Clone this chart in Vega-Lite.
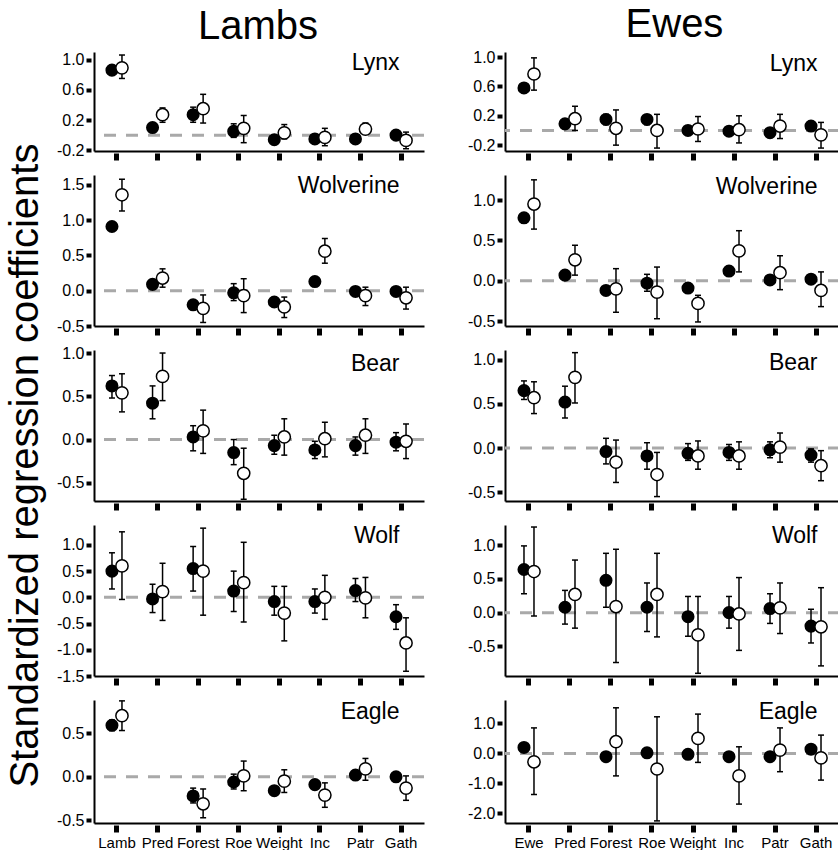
{
"$schema": "https://vega.github.io/schema/vega-lite/v6.json",
"background": "white",
"padding": {"left": 6, "top": 5, "right": 0, "bottom": 0},
"title": {"text": "Standardized regression coefficients", "orient": "left", "anchor": "middle", "fontSize": 40, "offset": 10, "dx": -38},
"data": {"values": [
{"s":"Lambs","p":"Lynx","v":"Lamb","m":"filled","est":0.86,"lo":0.81,"hi":0.91},
{"s":"Lambs","p":"Lynx","v":"Lamb","m":"open","est":0.89,"lo":0.75,"hi":1.06},
{"s":"Lambs","p":"Lynx","v":"Pred","m":"filled","est":0.10,"lo":0.06,"hi":0.14},
{"s":"Lambs","p":"Lynx","v":"Pred","m":"open","est":0.27,"lo":0.17,"hi":0.36},
{"s":"Lambs","p":"Lynx","v":"Forest","m":"filled","est":0.27,"lo":0.17,"hi":0.37},
{"s":"Lambs","p":"Lynx","v":"Forest","m":"open","est":0.35,"lo":0.16,"hi":0.54},
{"s":"Lambs","p":"Lynx","v":"Roe","m":"filled","est":0.05,"lo":-0.03,"hi":0.15},
{"s":"Lambs","p":"Lynx","v":"Roe","m":"open","est":0.09,"lo":-0.10,"hi":0.26},
{"s":"Lambs","p":"Lynx","v":"Weight","m":"filled","est":-0.06,"lo":-0.10,"hi":-0.02},
{"s":"Lambs","p":"Lynx","v":"Weight","m":"open","est":0.03,"lo":-0.05,"hi":0.14},
{"s":"Lambs","p":"Lynx","v":"Inc","m":"filled","est":-0.05,"lo":-0.09,"hi":-0.01},
{"s":"Lambs","p":"Lynx","v":"Inc","m":"open","est":-0.03,"lo":-0.14,"hi":0.09},
{"s":"Lambs","p":"Lynx","v":"Patr","m":"filled","est":-0.05,"lo":-0.09,"hi":-0.01},
{"s":"Lambs","p":"Lynx","v":"Patr","m":"open","est":0.08,"lo":0.02,"hi":0.16},
{"s":"Lambs","p":"Lynx","v":"Gath","m":"filled","est":0.00,"lo":-0.04,"hi":0.04},
{"s":"Lambs","p":"Lynx","v":"Gath","m":"open","est":-0.07,"lo":-0.18,"hi":0.04},
{"s":"Lambs","p":"Wolverine","v":"Lamb","m":"filled","est":0.91,"lo":0.86,"hi":0.96},
{"s":"Lambs","p":"Wolverine","v":"Lamb","m":"open","est":1.36,"lo":1.13,"hi":1.58},
{"s":"Lambs","p":"Wolverine","v":"Pred","m":"filled","est":0.09,"lo":0.05,"hi":0.13},
{"s":"Lambs","p":"Wolverine","v":"Pred","m":"open","est":0.18,"lo":0.05,"hi":0.31},
{"s":"Lambs","p":"Wolverine","v":"Forest","m":"filled","est":-0.20,"lo":-0.26,"hi":-0.14},
{"s":"Lambs","p":"Wolverine","v":"Forest","m":"open","est":-0.25,"lo":-0.45,"hi":-0.06},
{"s":"Lambs","p":"Wolverine","v":"Roe","m":"filled","est":-0.03,"lo":-0.14,"hi":0.10},
{"s":"Lambs","p":"Wolverine","v":"Roe","m":"open","est":-0.07,"lo":-0.31,"hi":0.17},
{"s":"Lambs","p":"Wolverine","v":"Weight","m":"filled","est":-0.16,"lo":-0.21,"hi":-0.11},
{"s":"Lambs","p":"Wolverine","v":"Weight","m":"open","est":-0.23,"lo":-0.38,"hi":-0.09},
{"s":"Lambs","p":"Wolverine","v":"Inc","m":"filled","est":0.13,"lo":0.09,"hi":0.17},
{"s":"Lambs","p":"Wolverine","v":"Inc","m":"open","est":0.56,"lo":0.39,"hi":0.74},
{"s":"Lambs","p":"Wolverine","v":"Patr","m":"filled","est":-0.01,"lo":-0.05,"hi":0.03},
{"s":"Lambs","p":"Wolverine","v":"Patr","m":"open","est":-0.07,"lo":-0.21,"hi":0.05},
{"s":"Lambs","p":"Wolverine","v":"Gath","m":"filled","est":-0.01,"lo":-0.05,"hi":0.03},
{"s":"Lambs","p":"Wolverine","v":"Gath","m":"open","est":-0.10,"lo":-0.26,"hi":0.05},
{"s":"Lambs","p":"Bear","v":"Lamb","m":"filled","est":0.62,"lo":0.48,"hi":0.74},
{"s":"Lambs","p":"Bear","v":"Lamb","m":"open","est":0.54,"lo":0.32,"hi":0.76},
{"s":"Lambs","p":"Bear","v":"Pred","m":"filled","est":0.42,"lo":0.24,"hi":0.62},
{"s":"Lambs","p":"Bear","v":"Pred","m":"open","est":0.73,"lo":0.45,"hi":1.0},
{"s":"Lambs","p":"Bear","v":"Forest","m":"filled","est":0.03,"lo":-0.13,"hi":0.16},
{"s":"Lambs","p":"Bear","v":"Forest","m":"open","est":0.10,"lo":-0.16,"hi":0.34},
{"s":"Lambs","p":"Bear","v":"Roe","m":"filled","est":-0.15,"lo":-0.29,"hi":0.0},
{"s":"Lambs","p":"Bear","v":"Roe","m":"open","est":-0.39,"lo":-0.69,"hi":-0.10},
{"s":"Lambs","p":"Bear","v":"Weight","m":"filled","est":-0.07,"lo":-0.17,"hi":0.05},
{"s":"Lambs","p":"Bear","v":"Weight","m":"open","est":0.03,"lo":-0.18,"hi":0.24},
{"s":"Lambs","p":"Bear","v":"Inc","m":"filled","est":-0.12,"lo":-0.22,"hi":-0.02},
{"s":"Lambs","p":"Bear","v":"Inc","m":"open","est":0.01,"lo":-0.20,"hi":0.20},
{"s":"Lambs","p":"Bear","v":"Patr","m":"filled","est":-0.07,"lo":-0.18,"hi":0.03},
{"s":"Lambs","p":"Bear","v":"Patr","m":"open","est":0.05,"lo":-0.16,"hi":0.24},
{"s":"Lambs","p":"Bear","v":"Gath","m":"filled","est":-0.03,"lo":-0.13,"hi":0.08},
{"s":"Lambs","p":"Bear","v":"Gath","m":"open","est":-0.02,"lo":-0.22,"hi":0.18},
{"s":"Lambs","p":"Wolf","v":"Lamb","m":"filled","est":0.50,"lo":0.16,"hi":0.85},
{"s":"Lambs","p":"Wolf","v":"Lamb","m":"open","est":0.60,"lo":-0.04,"hi":1.25},
{"s":"Lambs","p":"Wolf","v":"Pred","m":"filled","est":-0.03,"lo":-0.29,"hi":0.25},
{"s":"Lambs","p":"Wolf","v":"Pred","m":"open","est":0.11,"lo":-0.44,"hi":0.65},
{"s":"Lambs","p":"Wolf","v":"Forest","m":"filled","est":0.55,"lo":0.12,"hi":0.97},
{"s":"Lambs","p":"Wolf","v":"Forest","m":"open","est":0.50,"lo":-0.34,"hi":1.32},
{"s":"Lambs","p":"Wolf","v":"Roe","m":"filled","est":0.12,"lo":-0.27,"hi":0.50},
{"s":"Lambs","p":"Wolf","v":"Roe","m":"open","est":0.28,"lo":-0.47,"hi":1.05},
{"s":"Lambs","p":"Wolf","v":"Weight","m":"filled","est":-0.08,"lo":-0.34,"hi":0.21},
{"s":"Lambs","p":"Wolf","v":"Weight","m":"open","est":-0.30,"lo":-0.83,"hi":0.21},
{"s":"Lambs","p":"Wolf","v":"Inc","m":"filled","est":-0.08,"lo":-0.30,"hi":0.16},
{"s":"Lambs","p":"Wolf","v":"Inc","m":"open","est":0.00,"lo":-0.42,"hi":0.42},
{"s":"Lambs","p":"Wolf","v":"Patr","m":"filled","est":0.13,"lo":-0.08,"hi":0.36},
{"s":"Lambs","p":"Wolf","v":"Patr","m":"open","est":-0.01,"lo":-0.39,"hi":0.38},
{"s":"Lambs","p":"Wolf","v":"Gath","m":"filled","est":-0.37,"lo":-0.61,"hi":-0.14},
{"s":"Lambs","p":"Wolf","v":"Gath","m":"open","est":-0.87,"lo":-1.41,"hi":-0.39},
{"s":"Lambs","p":"Eagle","v":"Lamb","m":"filled","est":0.59,"lo":0.53,"hi":0.65},
{"s":"Lambs","p":"Eagle","v":"Lamb","m":"open","est":0.70,"lo":0.53,"hi":0.87},
{"s":"Lambs","p":"Eagle","v":"Forest","m":"filled","est":-0.22,"lo":-0.30,"hi":-0.13},
{"s":"Lambs","p":"Eagle","v":"Forest","m":"open","est":-0.31,"lo":-0.47,"hi":-0.14},
{"s":"Lambs","p":"Eagle","v":"Roe","m":"filled","est":-0.06,"lo":-0.14,"hi":0.03},
{"s":"Lambs","p":"Eagle","v":"Roe","m":"open","est":0.01,"lo":-0.16,"hi":0.18},
{"s":"Lambs","p":"Eagle","v":"Weight","m":"filled","est":-0.16,"lo":-0.21,"hi":-0.11},
{"s":"Lambs","p":"Eagle","v":"Weight","m":"open","est":-0.05,"lo":-0.18,"hi":0.08},
{"s":"Lambs","p":"Eagle","v":"Inc","m":"filled","est":-0.09,"lo":-0.14,"hi":-0.04},
{"s":"Lambs","p":"Eagle","v":"Inc","m":"open","est":-0.21,"lo":-0.35,"hi":-0.07},
{"s":"Lambs","p":"Eagle","v":"Patr","m":"filled","est":0.02,"lo":-0.03,"hi":0.07},
{"s":"Lambs","p":"Eagle","v":"Patr","m":"open","est":0.09,"lo":-0.04,"hi":0.21},
{"s":"Lambs","p":"Eagle","v":"Gath","m":"filled","est":0.00,"lo":-0.05,"hi":0.05},
{"s":"Lambs","p":"Eagle","v":"Gath","m":"open","est":-0.13,"lo":-0.27,"hi":0.01},
{"s":"Ewes","p":"Lynx","v":"Ewe","m":"filled","est":0.58,"lo":0.53,"hi":0.63},
{"s":"Ewes","p":"Lynx","v":"Ewe","m":"open","est":0.77,"lo":0.55,"hi":0.99},
{"s":"Ewes","p":"Lynx","v":"Pred","m":"filled","est":0.09,"lo":0.04,"hi":0.14},
{"s":"Ewes","p":"Lynx","v":"Pred","m":"open","est":0.16,"lo":0.00,"hi":0.33},
{"s":"Ewes","p":"Lynx","v":"Forest","m":"filled","est":0.15,"lo":0.08,"hi":0.22},
{"s":"Ewes","p":"Lynx","v":"Forest","m":"open","est":0.03,"lo":-0.20,"hi":0.28},
{"s":"Ewes","p":"Lynx","v":"Roe","m":"filled","est":0.15,"lo":0.08,"hi":0.21},
{"s":"Ewes","p":"Lynx","v":"Roe","m":"open","est":0.00,"lo":-0.24,"hi":0.22},
{"s":"Ewes","p":"Lynx","v":"Weight","m":"filled","est":0.00,"lo":-0.04,"hi":0.04},
{"s":"Ewes","p":"Lynx","v":"Weight","m":"open","est":0.02,"lo":-0.15,"hi":0.19},
{"s":"Ewes","p":"Lynx","v":"Inc","m":"filled","est":-0.01,"lo":-0.05,"hi":0.03},
{"s":"Ewes","p":"Lynx","v":"Inc","m":"open","est":0.01,"lo":-0.17,"hi":0.20},
{"s":"Ewes","p":"Lynx","v":"Patr","m":"filled","est":-0.03,"lo":-0.07,"hi":0.01},
{"s":"Ewes","p":"Lynx","v":"Patr","m":"open","est":0.06,"lo":-0.11,"hi":0.22},
{"s":"Ewes","p":"Lynx","v":"Gath","m":"filled","est":0.06,"lo":0.02,"hi":0.10},
{"s":"Ewes","p":"Lynx","v":"Gath","m":"open","est":-0.06,"lo":-0.24,"hi":0.11},
{"s":"Ewes","p":"Wolverine","v":"Ewe","m":"filled","est":0.78,"lo":0.72,"hi":0.84},
{"s":"Ewes","p":"Wolverine","v":"Ewe","m":"open","est":0.95,"lo":0.64,"hi":1.25},
{"s":"Ewes","p":"Wolverine","v":"Pred","m":"filled","est":0.07,"lo":0.03,"hi":0.11},
{"s":"Ewes","p":"Wolverine","v":"Pred","m":"open","est":0.26,"lo":0.07,"hi":0.44},
{"s":"Ewes","p":"Wolverine","v":"Forest","m":"filled","est":-0.12,"lo":-0.17,"hi":-0.07},
{"s":"Ewes","p":"Wolverine","v":"Forest","m":"open","est":-0.10,"lo":-0.39,"hi":0.15},
{"s":"Ewes","p":"Wolverine","v":"Roe","m":"filled","est":-0.03,"lo":-0.13,"hi":0.08},
{"s":"Ewes","p":"Wolverine","v":"Roe","m":"open","est":-0.14,"lo":-0.47,"hi":0.17},
{"s":"Ewes","p":"Wolverine","v":"Weight","m":"filled","est":-0.09,"lo":-0.14,"hi":-0.04},
{"s":"Ewes","p":"Wolverine","v":"Weight","m":"open","est":-0.28,"lo":-0.51,"hi":-0.18},
{"s":"Ewes","p":"Wolverine","v":"Inc","m":"filled","est":0.12,"lo":0.08,"hi":0.16},
{"s":"Ewes","p":"Wolverine","v":"Inc","m":"open","est":0.37,"lo":0.11,"hi":0.62},
{"s":"Ewes","p":"Wolverine","v":"Patr","m":"filled","est":0.01,"lo":-0.03,"hi":0.05},
{"s":"Ewes","p":"Wolverine","v":"Patr","m":"open","est":0.10,"lo":-0.11,"hi":0.31},
{"s":"Ewes","p":"Wolverine","v":"Gath","m":"filled","est":0.02,"lo":-0.02,"hi":0.06},
{"s":"Ewes","p":"Wolverine","v":"Gath","m":"open","est":-0.12,"lo":-0.32,"hi":0.11},
{"s":"Ewes","p":"Bear","v":"Ewe","m":"filled","est":0.65,"lo":0.55,"hi":0.76},
{"s":"Ewes","p":"Bear","v":"Ewe","m":"open","est":0.57,"lo":0.39,"hi":0.75},
{"s":"Ewes","p":"Bear","v":"Pred","m":"filled","est":0.52,"lo":0.34,"hi":0.70},
{"s":"Ewes","p":"Bear","v":"Pred","m":"open","est":0.80,"lo":0.51,"hi":1.08},
{"s":"Ewes","p":"Bear","v":"Forest","m":"filled","est":-0.04,"lo":-0.18,"hi":0.11},
{"s":"Ewes","p":"Bear","v":"Forest","m":"open","est":-0.16,"lo":-0.39,"hi":0.09},
{"s":"Ewes","p":"Bear","v":"Roe","m":"filled","est":-0.09,"lo":-0.24,"hi":0.06},
{"s":"Ewes","p":"Bear","v":"Roe","m":"open","est":-0.30,"lo":-0.55,"hi":-0.05},
{"s":"Ewes","p":"Bear","v":"Weight","m":"filled","est":-0.06,"lo":-0.14,"hi":0.05},
{"s":"Ewes","p":"Bear","v":"Weight","m":"open","est":-0.09,"lo":-0.24,"hi":0.08},
{"s":"Ewes","p":"Bear","v":"Inc","m":"filled","est":-0.05,"lo":-0.14,"hi":0.04},
{"s":"Ewes","p":"Bear","v":"Inc","m":"open","est":-0.09,"lo":-0.24,"hi":0.07},
{"s":"Ewes","p":"Bear","v":"Patr","m":"filled","est":-0.02,"lo":-0.11,"hi":0.07},
{"s":"Ewes","p":"Bear","v":"Patr","m":"open","est":0.01,"lo":-0.16,"hi":0.17},
{"s":"Ewes","p":"Bear","v":"Gath","m":"filled","est":-0.08,"lo":-0.16,"hi":-0.01},
{"s":"Ewes","p":"Bear","v":"Gath","m":"open","est":-0.20,"lo":-0.37,"hi":-0.03},
{"s":"Ewes","p":"Wolf","v":"Ewe","m":"filled","est":0.64,"lo":0.28,"hi":0.99},
{"s":"Ewes","p":"Wolf","v":"Ewe","m":"open","est":0.61,"lo":-0.05,"hi":1.27},
{"s":"Ewes","p":"Wolf","v":"Pred","m":"filled","est":0.08,"lo":-0.17,"hi":0.33},
{"s":"Ewes","p":"Wolf","v":"Pred","m":"open","est":0.27,"lo":-0.23,"hi":0.78},
{"s":"Ewes","p":"Wolf","v":"Forest","m":"filled","est":0.48,"lo":0.08,"hi":0.88},
{"s":"Ewes","p":"Wolf","v":"Forest","m":"open","est":0.09,"lo":-0.74,"hi":0.94},
{"s":"Ewes","p":"Wolf","v":"Roe","m":"filled","est":0.08,"lo":-0.28,"hi":0.44},
{"s":"Ewes","p":"Wolf","v":"Roe","m":"open","est":0.27,"lo":-0.36,"hi":0.88},
{"s":"Ewes","p":"Wolf","v":"Weight","m":"filled","est":-0.06,"lo":-0.35,"hi":0.24},
{"s":"Ewes","p":"Wolf","v":"Weight","m":"open","est":-0.33,"lo":-0.90,"hi":0.24},
{"s":"Ewes","p":"Wolf","v":"Inc","m":"filled","est":0.00,"lo":-0.23,"hi":0.24},
{"s":"Ewes","p":"Wolf","v":"Inc","m":"open","est":-0.02,"lo":-0.56,"hi":0.52},
{"s":"Ewes","p":"Wolf","v":"Patr","m":"filled","est":0.06,"lo":-0.16,"hi":0.28},
{"s":"Ewes","p":"Wolf","v":"Patr","m":"open","est":0.07,"lo":-0.31,"hi":0.44},
{"s":"Ewes","p":"Wolf","v":"Gath","m":"filled","est":-0.20,"lo":-0.45,"hi":0.05},
{"s":"Ewes","p":"Wolf","v":"Gath","m":"open","est":-0.21,"lo":-0.79,"hi":0.37},
{"s":"Ewes","p":"Eagle","v":"Ewe","m":"filled","est":0.20,"lo":0.10,"hi":0.30},
{"s":"Ewes","p":"Eagle","v":"Ewe","m":"open","est":-0.28,"lo":-1.37,"hi":0.85},
{"s":"Ewes","p":"Eagle","v":"Forest","m":"filled","est":-0.11,"lo":-0.21,"hi":-0.01},
{"s":"Ewes","p":"Eagle","v":"Forest","m":"open","est":0.39,"lo":-0.75,"hi":1.52},
{"s":"Ewes","p":"Eagle","v":"Roe","m":"filled","est":0.02,"lo":-0.08,"hi":0.12},
{"s":"Ewes","p":"Eagle","v":"Roe","m":"open","est":-0.52,"lo":-2.25,"hi":1.22},
{"s":"Ewes","p":"Eagle","v":"Weight","m":"filled","est":-0.03,"lo":-0.13,"hi":0.07},
{"s":"Ewes","p":"Eagle","v":"Weight","m":"open","est":0.50,"lo":-0.30,"hi":1.31},
{"s":"Ewes","p":"Eagle","v":"Inc","m":"filled","est":-0.11,"lo":-0.21,"hi":-0.01},
{"s":"Ewes","p":"Eagle","v":"Inc","m":"open","est":-0.75,"lo":-1.69,"hi":0.22},
{"s":"Ewes","p":"Eagle","v":"Patr","m":"filled","est":-0.11,"lo":-0.21,"hi":-0.01},
{"s":"Ewes","p":"Eagle","v":"Patr","m":"open","est":0.11,"lo":-0.61,"hi":0.85},
{"s":"Ewes","p":"Eagle","v":"Gath","m":"filled","est":0.14,"lo":0.04,"hi":0.24},
{"s":"Ewes","p":"Eagle","v":"Gath","m":"open","est":-0.15,"lo":-0.89,"hi":0.61}
]},
"spacing": 41,
"hconcat": [
{"title": {"text": "Lambs", "fontSize": 40, "offset": 4, "anchor": "middle", "dx": 17}, "spacing": 24, "bounds": "flush", "vconcat": [
 {"width": 330, "height": 99,
  "layer": [
   {"data": {"values": [{"ref": 0}]}, "mark": {"type": "rule", "color": "#a9a9a9", "strokeWidth": 3, "strokeDash": [12, 10]}, "encoding": {"y": {"field": "ref", "type": "quantitative", "scale": {"domain": [-0.21, 1.1], "nice": false, "zero": false}, "axis": {"values": [-0.2, 0.2, 0.6, 1.0], "tickCount": 20, "labelFontSize": 16, "labelOverlap": false, "title": "Lynx", "titleX": 305, "titleY": 17, "labelExpr": "replace(format(datum.value,'.1f'),'\u2212','-')"}}}},
   {"transform": [{"filter": "datum.s==='Lambs'&&datum.p==='Lynx'&&datum.m==='filled'"}], "encoding": {"x": {"field": "v", "type": "nominal", "scale": {"type": "band", "domain": ["Lamb","Pred","Forest","Roe","Weight","Inc","Patr","Gath"], "paddingInner": 0, "paddingOuter": 0.066}, "axis": {"labels": false, "title": null}}}, "layer": [
     {"mark": {"type": "rule", "xOffset": -5}, "encoding": {"y": {"field": "lo", "type": "quantitative"}, "y2": {"field": "hi"}}},
     {"mark": {"type": "tick", "xOffset": -5}, "encoding": {"y": {"field": "lo", "type": "quantitative"}}},
     {"mark": {"type": "tick", "xOffset": -5}, "encoding": {"y": {"field": "hi", "type": "quantitative"}}},
     {"mark": {"type": "circle", "xOffset": -5, "fill": "black", "size": 170, "opacity": 1}, "encoding": {"y": {"field": "est", "type": "quantitative"}}}]},
   {"transform": [{"filter": "datum.s==='Lambs'&&datum.p==='Lynx'&&datum.m==='open'"}], "encoding": {"x": {"field": "v", "type": "nominal", "scale": {"type": "band", "domain": ["Lamb","Pred","Forest","Roe","Weight","Inc","Patr","Gath"], "paddingInner": 0, "paddingOuter": 0.066}, "axis": {"labels": false, "title": null}}}, "layer": [
     {"mark": {"type": "rule", "xOffset": 5}, "encoding": {"y": {"field": "lo", "type": "quantitative"}, "y2": {"field": "hi"}}},
     {"mark": {"type": "tick", "xOffset": 5}, "encoding": {"y": {"field": "lo", "type": "quantitative"}}},
     {"mark": {"type": "tick", "xOffset": 5}, "encoding": {"y": {"field": "hi", "type": "quantitative"}}},
     {"mark": {"type": "circle", "xOffset": 5, "fill": "white", "stroke": "black", "strokeWidth": 1.5, "size": 150, "opacity": 1}, "encoding": {"y": {"field": "est", "type": "quantitative"}}}]}
  ]},
 {"width": 330, "height": 151,
  "layer": [
   {"data": {"values": [{"ref": 0}]}, "mark": {"type": "rule", "color": "#a9a9a9", "strokeWidth": 3, "strokeDash": [12, 10]}, "encoding": {"y": {"field": "ref", "type": "quantitative", "scale": {"domain": [-0.5, 1.64], "nice": false, "zero": false}, "axis": {"values": [-0.5, 0, 0.5, 1.0, 1.5], "tickCount": 20, "labelFontSize": 16, "labelOverlap": false, "title": "Wolverine", "titleX": 305, "titleY": 17, "labelExpr": "replace(format(datum.value,'.1f'),'\u2212','-')"}}}},
   {"transform": [{"filter": "datum.s==='Lambs'&&datum.p==='Wolverine'&&datum.m==='filled'"}], "encoding": {"x": {"field": "v", "type": "nominal", "scale": {"type": "band", "domain": ["Lamb","Pred","Forest","Roe","Weight","Inc","Patr","Gath"], "paddingInner": 0, "paddingOuter": 0.066}, "axis": {"labels": false, "title": null}}}, "layer": [
     {"mark": {"type": "rule", "xOffset": -5}, "encoding": {"y": {"field": "lo", "type": "quantitative"}, "y2": {"field": "hi"}}},
     {"mark": {"type": "tick", "xOffset": -5}, "encoding": {"y": {"field": "lo", "type": "quantitative"}}},
     {"mark": {"type": "tick", "xOffset": -5}, "encoding": {"y": {"field": "hi", "type": "quantitative"}}},
     {"mark": {"type": "circle", "xOffset": -5, "fill": "black", "size": 170, "opacity": 1}, "encoding": {"y": {"field": "est", "type": "quantitative"}}}]},
   {"transform": [{"filter": "datum.s==='Lambs'&&datum.p==='Wolverine'&&datum.m==='open'"}], "encoding": {"x": {"field": "v", "type": "nominal", "scale": {"type": "band", "domain": ["Lamb","Pred","Forest","Roe","Weight","Inc","Patr","Gath"], "paddingInner": 0, "paddingOuter": 0.066}, "axis": {"labels": false, "title": null}}}, "layer": [
     {"mark": {"type": "rule", "xOffset": 5}, "encoding": {"y": {"field": "lo", "type": "quantitative"}, "y2": {"field": "hi"}}},
     {"mark": {"type": "tick", "xOffset": 5}, "encoding": {"y": {"field": "lo", "type": "quantitative"}}},
     {"mark": {"type": "tick", "xOffset": 5}, "encoding": {"y": {"field": "hi", "type": "quantitative"}}},
     {"mark": {"type": "circle", "xOffset": 5, "fill": "white", "stroke": "black", "strokeWidth": 1.5, "size": 150, "opacity": 1}, "encoding": {"y": {"field": "est", "type": "quantitative"}}}]}
  ]},
 {"width": 330, "height": 151,
  "layer": [
   {"data": {"values": [{"ref": 0}]}, "mark": {"type": "rule", "color": "#a9a9a9", "strokeWidth": 3, "strokeDash": [12, 10]}, "encoding": {"y": {"field": "ref", "type": "quantitative", "scale": {"domain": [-0.71, 1.035], "nice": false, "zero": false}, "axis": {"values": [-0.5, 0, 0.5, 1.0], "tickCount": 20, "labelFontSize": 16, "labelOverlap": false, "title": "Bear", "titleX": 305, "titleY": 20, "labelExpr": "replace(format(datum.value,'.1f'),'\u2212','-')"}}}},
   {"transform": [{"filter": "datum.s==='Lambs'&&datum.p==='Bear'&&datum.m==='filled'"}], "encoding": {"x": {"field": "v", "type": "nominal", "scale": {"type": "band", "domain": ["Lamb","Pred","Forest","Roe","Weight","Inc","Patr","Gath"], "paddingInner": 0, "paddingOuter": 0.066}, "axis": {"labels": false, "title": null}}}, "layer": [
     {"mark": {"type": "rule", "xOffset": -5}, "encoding": {"y": {"field": "lo", "type": "quantitative"}, "y2": {"field": "hi"}}},
     {"mark": {"type": "tick", "xOffset": -5}, "encoding": {"y": {"field": "lo", "type": "quantitative"}}},
     {"mark": {"type": "tick", "xOffset": -5}, "encoding": {"y": {"field": "hi", "type": "quantitative"}}},
     {"mark": {"type": "circle", "xOffset": -5, "fill": "black", "size": 170, "opacity": 1}, "encoding": {"y": {"field": "est", "type": "quantitative"}}}]},
   {"transform": [{"filter": "datum.s==='Lambs'&&datum.p==='Bear'&&datum.m==='open'"}], "encoding": {"x": {"field": "v", "type": "nominal", "scale": {"type": "band", "domain": ["Lamb","Pred","Forest","Roe","Weight","Inc","Patr","Gath"], "paddingInner": 0, "paddingOuter": 0.066}, "axis": {"labels": false, "title": null}}}, "layer": [
     {"mark": {"type": "rule", "xOffset": 5}, "encoding": {"y": {"field": "lo", "type": "quantitative"}, "y2": {"field": "hi"}}},
     {"mark": {"type": "tick", "xOffset": 5}, "encoding": {"y": {"field": "lo", "type": "quantitative"}}},
     {"mark": {"type": "tick", "xOffset": 5}, "encoding": {"y": {"field": "hi", "type": "quantitative"}}},
     {"mark": {"type": "circle", "xOffset": 5, "fill": "white", "stroke": "black", "strokeWidth": 1.5, "size": 150, "opacity": 1}, "encoding": {"y": {"field": "est", "type": "quantitative"}}}]}
  ]},
 {"width": 330, "height": 151,
  "layer": [
   {"data": {"values": [{"ref": 0}]}, "mark": {"type": "rule", "color": "#a9a9a9", "strokeWidth": 3, "strokeDash": [12, 10]}, "encoding": {"y": {"field": "ref", "type": "quantitative", "scale": {"domain": [-1.5, 1.38], "nice": false, "zero": false}, "axis": {"values": [-1.5, -1.0, -0.5, 0, 0.5, 1.0], "tickCount": 20, "labelFontSize": 16, "labelOverlap": false, "title": "Wolf", "titleX": 305, "titleY": 17, "labelExpr": "replace(format(datum.value,'.1f'),'\u2212','-')"}}}},
   {"transform": [{"filter": "datum.s==='Lambs'&&datum.p==='Wolf'&&datum.m==='filled'"}], "encoding": {"x": {"field": "v", "type": "nominal", "scale": {"type": "band", "domain": ["Lamb","Pred","Forest","Roe","Weight","Inc","Patr","Gath"], "paddingInner": 0, "paddingOuter": 0.066}, "axis": {"labels": false, "title": null}}}, "layer": [
     {"mark": {"type": "rule", "xOffset": -5}, "encoding": {"y": {"field": "lo", "type": "quantitative"}, "y2": {"field": "hi"}}},
     {"mark": {"type": "tick", "xOffset": -5}, "encoding": {"y": {"field": "lo", "type": "quantitative"}}},
     {"mark": {"type": "tick", "xOffset": -5}, "encoding": {"y": {"field": "hi", "type": "quantitative"}}},
     {"mark": {"type": "circle", "xOffset": -5, "fill": "black", "size": 170, "opacity": 1}, "encoding": {"y": {"field": "est", "type": "quantitative"}}}]},
   {"transform": [{"filter": "datum.s==='Lambs'&&datum.p==='Wolf'&&datum.m==='open'"}], "encoding": {"x": {"field": "v", "type": "nominal", "scale": {"type": "band", "domain": ["Lamb","Pred","Forest","Roe","Weight","Inc","Patr","Gath"], "paddingInner": 0, "paddingOuter": 0.066}, "axis": {"labels": false, "title": null}}}, "layer": [
     {"mark": {"type": "rule", "xOffset": 5}, "encoding": {"y": {"field": "lo", "type": "quantitative"}, "y2": {"field": "hi"}}},
     {"mark": {"type": "tick", "xOffset": 5}, "encoding": {"y": {"field": "lo", "type": "quantitative"}}},
     {"mark": {"type": "tick", "xOffset": 5}, "encoding": {"y": {"field": "hi", "type": "quantitative"}}},
     {"mark": {"type": "circle", "xOffset": 5, "fill": "white", "stroke": "black", "strokeWidth": 1.5, "size": 150, "opacity": 1}, "encoding": {"y": {"field": "est", "type": "quantitative"}}}]}
  ]},
 {"width": 330, "height": 123,
  "layer": [
   {"data": {"values": [{"ref": 0}]}, "mark": {"type": "rule", "color": "#a9a9a9", "strokeWidth": 3, "strokeDash": [12, 10]}, "encoding": {"y": {"field": "ref", "type": "quantitative", "scale": {"domain": [-0.53, 0.88], "nice": false, "zero": false}, "axis": {"values": [-0.5, 0, 0.5], "tickCount": 20, "labelFontSize": 16, "labelOverlap": false, "title": "Eagle", "titleX": 305, "titleY": 18, "labelExpr": "replace(format(datum.value,'.1f'),'\u2212','-')"}}}},
   {"transform": [{"filter": "datum.s==='Lambs'&&datum.p==='Eagle'&&datum.m==='filled'"}], "encoding": {"x": {"field": "v", "type": "nominal", "scale": {"type": "band", "domain": ["Lamb","Pred","Forest","Roe","Weight","Inc","Patr","Gath"], "paddingInner": 0, "paddingOuter": 0.066}, "axis": {"title": null}}}, "layer": [
     {"mark": {"type": "rule", "xOffset": -5}, "encoding": {"y": {"field": "lo", "type": "quantitative"}, "y2": {"field": "hi"}}},
     {"mark": {"type": "tick", "xOffset": -5}, "encoding": {"y": {"field": "lo", "type": "quantitative"}}},
     {"mark": {"type": "tick", "xOffset": -5}, "encoding": {"y": {"field": "hi", "type": "quantitative"}}},
     {"mark": {"type": "circle", "xOffset": -5, "fill": "black", "size": 170, "opacity": 1}, "encoding": {"y": {"field": "est", "type": "quantitative"}}}]},
   {"transform": [{"filter": "datum.s==='Lambs'&&datum.p==='Eagle'&&datum.m==='open'"}], "encoding": {"x": {"field": "v", "type": "nominal", "scale": {"type": "band", "domain": ["Lamb","Pred","Forest","Roe","Weight","Inc","Patr","Gath"], "paddingInner": 0, "paddingOuter": 0.066}, "axis": {"title": null}}}, "layer": [
     {"mark": {"type": "rule", "xOffset": 5}, "encoding": {"y": {"field": "lo", "type": "quantitative"}, "y2": {"field": "hi"}}},
     {"mark": {"type": "tick", "xOffset": 5}, "encoding": {"y": {"field": "lo", "type": "quantitative"}}},
     {"mark": {"type": "tick", "xOffset": 5}, "encoding": {"y": {"field": "hi", "type": "quantitative"}}},
     {"mark": {"type": "circle", "xOffset": 5, "fill": "white", "stroke": "black", "strokeWidth": 1.5, "size": 150, "opacity": 1}, "encoding": {"y": {"field": "est", "type": "quantitative"}}}]}
  ]}
]},
{"title": {"text": "Ewes", "fontSize": 40, "offset": 4, "anchor": "middle", "dx": 20}, "spacing": 24, "bounds": "flush", "vconcat": [
 {"width": 335, "height": 99,
  "layer": [
   {"data": {"values": [{"ref": 0}]}, "mark": {"type": "rule", "color": "#a9a9a9", "strokeWidth": 3, "strokeDash": [12, 10]}, "encoding": {"y": {"field": "ref", "type": "quantitative", "scale": {"domain": [-0.28, 1.07], "nice": false, "zero": false}, "axis": {"values": [-0.2, 0.2, 0.6, 1.0], "tickCount": 20, "labelFontSize": 16, "labelOverlap": false, "title": "Lynx", "titleX": 312, "titleY": 18, "labelExpr": "replace(format(datum.value,'.1f'),'\u2212','-')"}}}},
   {"transform": [{"filter": "datum.s==='Ewes'&&datum.p==='Lynx'&&datum.m==='filled'"}], "encoding": {"x": {"field": "v", "type": "nominal", "scale": {"type": "band", "domain": ["Ewe","Pred","Forest","Roe","Weight","Inc","Patr","Gath"], "paddingInner": 0, "paddingOuter": 0.085}, "axis": {"labels": false, "title": null}}}, "layer": [
     {"mark": {"type": "rule", "xOffset": -5}, "encoding": {"y": {"field": "lo", "type": "quantitative"}, "y2": {"field": "hi"}}},
     {"mark": {"type": "tick", "xOffset": -5}, "encoding": {"y": {"field": "lo", "type": "quantitative"}}},
     {"mark": {"type": "tick", "xOffset": -5}, "encoding": {"y": {"field": "hi", "type": "quantitative"}}},
     {"mark": {"type": "circle", "xOffset": -5, "fill": "black", "size": 170, "opacity": 1}, "encoding": {"y": {"field": "est", "type": "quantitative"}}}]},
   {"transform": [{"filter": "datum.s==='Ewes'&&datum.p==='Lynx'&&datum.m==='open'"}], "encoding": {"x": {"field": "v", "type": "nominal", "scale": {"type": "band", "domain": ["Ewe","Pred","Forest","Roe","Weight","Inc","Patr","Gath"], "paddingInner": 0, "paddingOuter": 0.085}, "axis": {"labels": false, "title": null}}}, "layer": [
     {"mark": {"type": "rule", "xOffset": 5}, "encoding": {"y": {"field": "lo", "type": "quantitative"}, "y2": {"field": "hi"}}},
     {"mark": {"type": "tick", "xOffset": 5}, "encoding": {"y": {"field": "lo", "type": "quantitative"}}},
     {"mark": {"type": "tick", "xOffset": 5}, "encoding": {"y": {"field": "hi", "type": "quantitative"}}},
     {"mark": {"type": "circle", "xOffset": 5, "fill": "white", "stroke": "black", "strokeWidth": 1.5, "size": 150, "opacity": 1}, "encoding": {"y": {"field": "est", "type": "quantitative"}}}]}
  ]},
 {"width": 335, "height": 151,
  "layer": [
   {"data": {"values": [{"ref": 0}]}, "mark": {"type": "rule", "color": "#a9a9a9", "strokeWidth": 3, "strokeDash": [12, 10]}, "encoding": {"y": {"field": "ref", "type": "quantitative", "scale": {"domain": [-0.56, 1.31], "nice": false, "zero": false}, "axis": {"values": [-0.5, 0, 0.5, 1.0], "tickCount": 20, "labelFontSize": 16, "labelOverlap": false, "title": "Wolverine", "titleX": 312, "titleY": 18, "labelExpr": "replace(format(datum.value,'.1f'),'\u2212','-')"}}}},
   {"transform": [{"filter": "datum.s==='Ewes'&&datum.p==='Wolverine'&&datum.m==='filled'"}], "encoding": {"x": {"field": "v", "type": "nominal", "scale": {"type": "band", "domain": ["Ewe","Pred","Forest","Roe","Weight","Inc","Patr","Gath"], "paddingInner": 0, "paddingOuter": 0.085}, "axis": {"labels": false, "title": null}}}, "layer": [
     {"mark": {"type": "rule", "xOffset": -5}, "encoding": {"y": {"field": "lo", "type": "quantitative"}, "y2": {"field": "hi"}}},
     {"mark": {"type": "tick", "xOffset": -5}, "encoding": {"y": {"field": "lo", "type": "quantitative"}}},
     {"mark": {"type": "tick", "xOffset": -5}, "encoding": {"y": {"field": "hi", "type": "quantitative"}}},
     {"mark": {"type": "circle", "xOffset": -5, "fill": "black", "size": 170, "opacity": 1}, "encoding": {"y": {"field": "est", "type": "quantitative"}}}]},
   {"transform": [{"filter": "datum.s==='Ewes'&&datum.p==='Wolverine'&&datum.m==='open'"}], "encoding": {"x": {"field": "v", "type": "nominal", "scale": {"type": "band", "domain": ["Ewe","Pred","Forest","Roe","Weight","Inc","Patr","Gath"], "paddingInner": 0, "paddingOuter": 0.085}, "axis": {"labels": false, "title": null}}}, "layer": [
     {"mark": {"type": "rule", "xOffset": 5}, "encoding": {"y": {"field": "lo", "type": "quantitative"}, "y2": {"field": "hi"}}},
     {"mark": {"type": "tick", "xOffset": 5}, "encoding": {"y": {"field": "lo", "type": "quantitative"}}},
     {"mark": {"type": "tick", "xOffset": 5}, "encoding": {"y": {"field": "hi", "type": "quantitative"}}},
     {"mark": {"type": "circle", "xOffset": 5, "fill": "white", "stroke": "black", "strokeWidth": 1.5, "size": 150, "opacity": 1}, "encoding": {"y": {"field": "est", "type": "quantitative"}}}]}
  ]},
 {"width": 335, "height": 151,
  "layer": [
   {"data": {"values": [{"ref": 0}]}, "mark": {"type": "rule", "color": "#a9a9a9", "strokeWidth": 3, "strokeDash": [12, 10]}, "encoding": {"y": {"field": "ref", "type": "quantitative", "scale": {"domain": [-0.6, 1.11], "nice": false, "zero": false}, "axis": {"values": [-0.5, 0, 0.5, 1.0], "tickCount": 20, "labelFontSize": 16, "labelOverlap": false, "title": "Bear", "titleX": 312, "titleY": 19, "labelExpr": "replace(format(datum.value,'.1f'),'\u2212','-')"}}}},
   {"transform": [{"filter": "datum.s==='Ewes'&&datum.p==='Bear'&&datum.m==='filled'"}], "encoding": {"x": {"field": "v", "type": "nominal", "scale": {"type": "band", "domain": ["Ewe","Pred","Forest","Roe","Weight","Inc","Patr","Gath"], "paddingInner": 0, "paddingOuter": 0.085}, "axis": {"labels": false, "title": null}}}, "layer": [
     {"mark": {"type": "rule", "xOffset": -5}, "encoding": {"y": {"field": "lo", "type": "quantitative"}, "y2": {"field": "hi"}}},
     {"mark": {"type": "tick", "xOffset": -5}, "encoding": {"y": {"field": "lo", "type": "quantitative"}}},
     {"mark": {"type": "tick", "xOffset": -5}, "encoding": {"y": {"field": "hi", "type": "quantitative"}}},
     {"mark": {"type": "circle", "xOffset": -5, "fill": "black", "size": 170, "opacity": 1}, "encoding": {"y": {"field": "est", "type": "quantitative"}}}]},
   {"transform": [{"filter": "datum.s==='Ewes'&&datum.p==='Bear'&&datum.m==='open'"}], "encoding": {"x": {"field": "v", "type": "nominal", "scale": {"type": "band", "domain": ["Ewe","Pred","Forest","Roe","Weight","Inc","Patr","Gath"], "paddingInner": 0, "paddingOuter": 0.085}, "axis": {"labels": false, "title": null}}}, "layer": [
     {"mark": {"type": "rule", "xOffset": 5}, "encoding": {"y": {"field": "lo", "type": "quantitative"}, "y2": {"field": "hi"}}},
     {"mark": {"type": "tick", "xOffset": 5}, "encoding": {"y": {"field": "lo", "type": "quantitative"}}},
     {"mark": {"type": "tick", "xOffset": 5}, "encoding": {"y": {"field": "hi", "type": "quantitative"}}},
     {"mark": {"type": "circle", "xOffset": 5, "fill": "white", "stroke": "black", "strokeWidth": 1.5, "size": 150, "opacity": 1}, "encoding": {"y": {"field": "est", "type": "quantitative"}}}]}
  ]},
 {"width": 335, "height": 151,
  "layer": [
   {"data": {"values": [{"ref": 0}]}, "mark": {"type": "rule", "color": "#a9a9a9", "strokeWidth": 3, "strokeDash": [12, 10]}, "encoding": {"y": {"field": "ref", "type": "quantitative", "scale": {"domain": [-0.94, 1.3], "nice": false, "zero": false}, "axis": {"values": [-0.5, 0, 0.5, 1.0], "tickCount": 20, "labelFontSize": 16, "labelOverlap": false, "title": "Wolf", "titleX": 312, "titleY": 17, "labelExpr": "replace(format(datum.value,'.1f'),'\u2212','-')"}}}},
   {"transform": [{"filter": "datum.s==='Ewes'&&datum.p==='Wolf'&&datum.m==='filled'"}], "encoding": {"x": {"field": "v", "type": "nominal", "scale": {"type": "band", "domain": ["Ewe","Pred","Forest","Roe","Weight","Inc","Patr","Gath"], "paddingInner": 0, "paddingOuter": 0.085}, "axis": {"labels": false, "title": null}}}, "layer": [
     {"mark": {"type": "rule", "xOffset": -5}, "encoding": {"y": {"field": "lo", "type": "quantitative"}, "y2": {"field": "hi"}}},
     {"mark": {"type": "tick", "xOffset": -5}, "encoding": {"y": {"field": "lo", "type": "quantitative"}}},
     {"mark": {"type": "tick", "xOffset": -5}, "encoding": {"y": {"field": "hi", "type": "quantitative"}}},
     {"mark": {"type": "circle", "xOffset": -5, "fill": "black", "size": 170, "opacity": 1}, "encoding": {"y": {"field": "est", "type": "quantitative"}}}]},
   {"transform": [{"filter": "datum.s==='Ewes'&&datum.p==='Wolf'&&datum.m==='open'"}], "encoding": {"x": {"field": "v", "type": "nominal", "scale": {"type": "band", "domain": ["Ewe","Pred","Forest","Roe","Weight","Inc","Patr","Gath"], "paddingInner": 0, "paddingOuter": 0.085}, "axis": {"labels": false, "title": null}}}, "layer": [
     {"mark": {"type": "rule", "xOffset": 5}, "encoding": {"y": {"field": "lo", "type": "quantitative"}, "y2": {"field": "hi"}}},
     {"mark": {"type": "tick", "xOffset": 5}, "encoding": {"y": {"field": "lo", "type": "quantitative"}}},
     {"mark": {"type": "tick", "xOffset": 5}, "encoding": {"y": {"field": "hi", "type": "quantitative"}}},
     {"mark": {"type": "circle", "xOffset": 5, "fill": "white", "stroke": "black", "strokeWidth": 1.5, "size": 150, "opacity": 1}, "encoding": {"y": {"field": "est", "type": "quantitative"}}}]}
  ]},
 {"width": 335, "height": 123,
  "layer": [
   {"data": {"values": [{"ref": 0}]}, "mark": {"type": "rule", "color": "#a9a9a9", "strokeWidth": 3, "strokeDash": [12, 10]}, "encoding": {"y": {"field": "ref", "type": "quantitative", "scale": {"domain": [-2.32, 1.78], "nice": false, "zero": false}, "axis": {"values": [-2.0, -1.0, 0, 1.0], "tickCount": 20, "labelFontSize": 16, "labelOverlap": false, "title": "Eagle", "titleX": 312, "titleY": 18, "labelExpr": "replace(format(datum.value,'.1f'),'\u2212','-')"}}}},
   {"transform": [{"filter": "datum.s==='Ewes'&&datum.p==='Eagle'&&datum.m==='filled'"}], "encoding": {"x": {"field": "v", "type": "nominal", "scale": {"type": "band", "domain": ["Ewe","Pred","Forest","Roe","Weight","Inc","Patr","Gath"], "paddingInner": 0, "paddingOuter": 0.085}, "axis": {"title": null}}}, "layer": [
     {"mark": {"type": "rule", "xOffset": -5}, "encoding": {"y": {"field": "lo", "type": "quantitative"}, "y2": {"field": "hi"}}},
     {"mark": {"type": "tick", "xOffset": -5}, "encoding": {"y": {"field": "lo", "type": "quantitative"}}},
     {"mark": {"type": "tick", "xOffset": -5}, "encoding": {"y": {"field": "hi", "type": "quantitative"}}},
     {"mark": {"type": "circle", "xOffset": -5, "fill": "black", "size": 170, "opacity": 1}, "encoding": {"y": {"field": "est", "type": "quantitative"}}}]},
   {"transform": [{"filter": "datum.s==='Ewes'&&datum.p==='Eagle'&&datum.m==='open'"}], "encoding": {"x": {"field": "v", "type": "nominal", "scale": {"type": "band", "domain": ["Ewe","Pred","Forest","Roe","Weight","Inc","Patr","Gath"], "paddingInner": 0, "paddingOuter": 0.085}, "axis": {"title": null}}}, "layer": [
     {"mark": {"type": "rule", "xOffset": 5}, "encoding": {"y": {"field": "lo", "type": "quantitative"}, "y2": {"field": "hi"}}},
     {"mark": {"type": "tick", "xOffset": 5}, "encoding": {"y": {"field": "lo", "type": "quantitative"}}},
     {"mark": {"type": "tick", "xOffset": 5}, "encoding": {"y": {"field": "hi", "type": "quantitative"}}},
     {"mark": {"type": "circle", "xOffset": 5, "fill": "white", "stroke": "black", "strokeWidth": 1.5, "size": 150, "opacity": 1}, "encoding": {"y": {"field": "est", "type": "quantitative"}}}]}
  ]}
]}
],
"config": {
  "font": "Liberation Sans",
  "view": {"stroke": null},
  "axis": {"grid": false, "domainColor": "black", "domainWidth": 2, "tickColor": "black", "labelColor": "black", "labelFont": "Liberation Sans", "labelFontSize": 15},
  "axisY": {"tickWidth": 4, "tickSize": 8, "tickDash": [0, 3, 5, 100], "labelPadding": 2, "labelFontSize": 16, "labelOverlap": false, "titleAngle": 0, "titleAlign": "right", "titleBaseline": "alphabetic", "titleFontSize": 23, "titleFontWeight": "normal", "titleColor": "black", "titleFont": "Liberation Sans", "titlePadding": 0},
  "axisX": {"tickWidth": 5, "tickSize": 9, "tickDash": [0, 2, 7, 100], "labelAngle": 0, "labelPadding": 3, "labelFontSize": 15, "labelOverlap": false},
  "rule": {"color": "black", "strokeWidth": 1.5},
  "tick": {"color": "black", "thickness": 1.5, "bandSize": 6, "size": 6, "opacity": 1},
  "circle": {"opacity": 1},
  "title": {"font": "Liberation Sans", "fontWeight": "normal", "color": "black"}
}
}
